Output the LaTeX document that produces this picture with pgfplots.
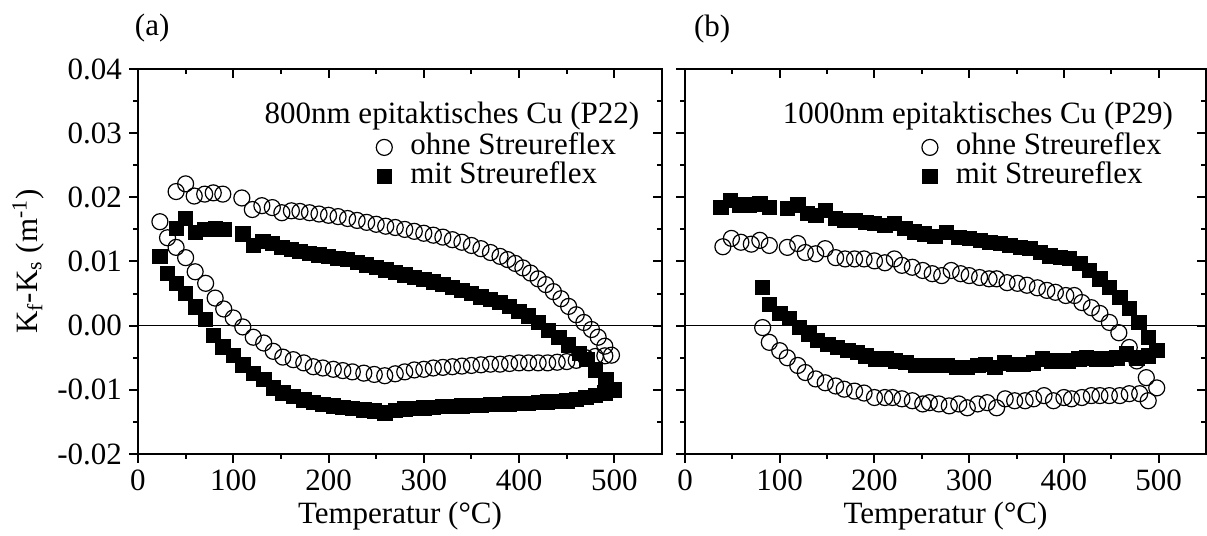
\documentclass[border=0pt]{standalone}
\usepackage{fontspec}
\setmainfont{Liberation Serif}
\usepackage{pgfplots}
\usepackage{pgfplotstable}
\pgfplotsset{compat=1.18}

\pgfplotstableread{
x y
23 0.0162
31 0.0137
40 0.0122
50 0.0106
60 0.0084
71 0.0066
81 0.0043
90 0.0026
100 0.0012
110 -0.0002
121 -0.0018
132 -0.0027
142 -0.0040
152 -0.0049
163 -0.0053
174 -0.0058
184 -0.0064
194 -0.0066
205 -0.0068
215 -0.0070
225 -0.0072
237 -0.0074
248 -0.0076
259 -0.0078
270 -0.0075
280 -0.0072
290 -0.0069
300 -0.0068
310 -0.0066
320 -0.0065
330 -0.0064
340 -0.0063
350 -0.0062
360 -0.0061
370 -0.0060
380 -0.0060
390 -0.0059
400 -0.0058
410 -0.0058
420 -0.0058
430 -0.0058
440 -0.0057
450 -0.0056
460 -0.0054
470 -0.0050
480 -0.0048
490 -0.0047
497 -0.0046
490 -0.0032
483 -0.0018
476 -0.0006
468 0.0005
460 0.0017
452 0.0030
444 0.0042
436 0.0053
428 0.0064
420 0.0073
412 0.0082
404 0.0090
396 0.0097
388 0.0103
380 0.0108
370 0.0114
360 0.0120
350 0.0125
340 0.0130
330 0.0134
320 0.0138
310 0.0141
300 0.0144
290 0.0147
280 0.0150
270 0.0153
260 0.0155
250 0.0158
240 0.0161
230 0.0164
220 0.0167
210 0.0170
200 0.0172
190 0.0174
180 0.0176
170 0.0178
161 0.0179
151 0.0176
141 0.0184
130 0.0187
120 0.0181
109 0.0199
89 0.0205
79 0.0207
70 0.0205
59 0.0202
50 0.0221
40 0.0209
}\aohne

\pgfplotstableread{
x y
23 0.0108
31 0.0081
40 0.0066
50 0.0050
60 0.0029
71 0.0010
79 -0.0015
89 -0.0033
100 -0.0046
110 -0.0061
121 -0.0074
132 -0.0084
142 -0.0097
152 -0.0105
163 -0.0110
174 -0.0116
184 -0.0120
194 -0.0123
205 -0.0125
215 -0.0127
225 -0.0129
237 -0.0131
248 -0.0133
259 -0.0136
270 -0.0132
280 -0.0130
290 -0.0129
300 -0.0128
310 -0.0127
320 -0.0126
330 -0.0126
340 -0.0125
350 -0.0124
360 -0.0124
370 -0.0123
380 -0.0123
390 -0.0122
400 -0.0121
410 -0.0121
420 -0.0120
430 -0.0119
440 -0.0118
450 -0.0117
460 -0.0115
470 -0.0112
480 -0.0109
490 -0.0105
500 -0.0100
491 -0.0084
480 -0.0069
471 -0.0053
463 -0.0043
452 -0.0030
442 -0.0018
431 -0.0007
420 0.0005
410 0.0015
400 0.0022
390 0.0030
380 0.0036
370 0.0041
360 0.0045
350 0.0050
340 0.0055
330 0.0060
320 0.0064
310 0.0068
300 0.0072
290 0.0075
280 0.0079
270 0.0083
260 0.0087
250 0.0091
240 0.0095
230 0.0099
220 0.0103
210 0.0105
200 0.0108
190 0.0110
180 0.0113
170 0.0116
161 0.0119
151 0.0122
141 0.0128
131 0.0131
121 0.0125
110 0.0143
90 0.0150
81 0.0151
70 0.0150
60 0.0145
50 0.0167
40 0.0152
}\amit

\pgfplotstableread{
x y
40 0.0123
49 0.0136
59 0.0130
70 0.0127
79 0.0133
89 0.0125
108 0.0122
119 0.0128
127 0.0114
138 0.0112
148 0.0120
159 0.0106
169 0.0104
179 0.0104
189 0.0104
200 0.0101
211 0.0098
221 0.0104
229 0.0094
240 0.0091
251 0.0086
261 0.0081
271 0.0078
281 0.0086
291 0.0081
300 0.0078
311 0.0075
321 0.0073
329 0.0073
340 0.0067
351 0.0066
361 0.0063
372 0.0059
382 0.0055
391 0.0052
402 0.0047
411 0.0047
419 0.0036
429 0.0028
438 0.0019
448 0.0005
458 -0.0011
469 -0.0034
477 -0.0055
487 -0.0081
498 -0.0097
489 -0.0117
480 -0.0106
469 -0.0106
459 -0.0109
448 -0.0109
438 -0.0109
429 -0.0109
419 -0.0112
408 -0.0114
400 -0.0112
389 -0.0117
379 -0.0109
368 -0.0114
359 -0.0117
348 -0.0117
338 -0.0114
329 -0.0128
319 -0.0120
309 -0.0122
298 -0.0128
289 -0.0122
279 -0.0125
268 -0.0122
258 -0.0120
251 -0.0122
240 -0.0117
229 -0.0114
219 -0.0112
211 -0.0112
200 -0.0112
189 -0.0105
179 -0.0102
168 -0.0099
159 -0.0094
148 -0.0089
138 -0.0083
127 -0.0073
119 -0.0062
108 -0.0050
100 -0.0039
89 -0.0026
82 -0.0003
}\bohne

\pgfplotstableread{
x y
38 0.0184
48 0.0195
58 0.0188
68 0.0188
79 0.0190
89 0.0184
108 0.0183
119 0.0188
129 0.0175
138 0.0172
148 0.0180
159 0.0167
169 0.0164
180 0.0164
191 0.0161
200 0.0159
211 0.0156
221 0.0159
232 0.0152
242 0.0146
253 0.0143
264 0.0139
276 0.0145
289 0.0138
300 0.0136
312 0.0133
322 0.0130
333 0.0128
343 0.0125
354 0.0122
364 0.0120
375 0.0114
385 0.0109
396 0.0106
406 0.0105
417 0.0097
427 0.0086
438 0.0073
448 0.0060
459 0.0044
469 0.0027
479 0.0005
489 -0.0018
498 -0.0039
489 -0.0047
477 -0.0050
466 -0.0044
456 -0.0050
445 -0.0052
435 -0.0052
424 -0.0050
416 -0.0052
405 -0.0055
396 -0.0055
387 -0.0055
377 -0.0052
368 -0.0058
357 -0.0060
347 -0.0060
337 -0.0058
327 -0.0065
317 -0.0060
309 -0.0062
298 -0.0065
287 -0.0065
277 -0.0062
266 -0.0062
254 -0.0062
243 -0.0062
233 -0.0057
222 -0.0055
212 -0.0052
201 -0.0052
191 -0.0047
182 -0.0042
172 -0.0039
161 -0.0034
151 -0.0029
140 -0.0023
131 -0.0013
121 -0.0003
110 0.0011
100 0.0019
89 0.0033
82 0.0060
}\bmit

\newcommand{\fs}{\fontsize{15.5}{18}\selectfont}

\pgfplotsset{
  base/.style={
    scale only axis, height=192.5pt,
    xmin=0, xmax=550, ymin=-0.02, ymax=0.04,
    xtick={0,100,200,300,400,500}, minor x tick num=1,
    ytick={-0.02,-0.01,0,0.01,0.02,0.03,0.04}, minor y tick num=1,
    scaled y ticks=false,
    axis line style={line width=1pt},
    every tick/.style={line width=1pt, black},
    major tick length=4.5pt, minor tick length=2.5pt,
    tick label style={font=\fs},
    /pgf/number format/assume math mode=true,
    yticklabel style={/pgf/number format/.cd, fixed, fixed zerofill, precision=2},
  },
  mainax/.style={base, clip=false, tick align=outside, xtick pos=left, ytick pos=left,
    xlabel={Temperatur (°C)},
    xlabel style={font=\fs, at={(axis description cs:0.5,-0.16)}, anchor=center},
    legend style={draw=none, fill=none, inner sep=0pt, font=\fs,
      at={(rel axis cs:0.454,0.835)}, anchor=north west,
      column sep=9pt,
      nodes={inner sep=0pt, text height=11pt, text depth=3.5pt}},
    legend cell align=left,
  },
  overax/.style={base, tick align=inside, xtick pos=right, ytick pos=right,
    xticklabels={}, yticklabels={}},
  ohne/.style={only marks, mark=o, mark size=4pt, mark options={line width=0.6pt, black}},
  mit/.style={only marks, mark=square*, mark size=3.6pt, mark options={black, fill=black}},
}

\begin{document}
\begin{tikzpicture}
\path[use as bounding box] (0,0) rectangle (603.5pt,268pt);

% panel (a)
\begin{axis}[mainax, at={(69pt,41pt)}, anchor=south west, width=262pt,
  ylabel={K\textsubscript{f}-K\textsubscript{s} (m\textsuperscript{-1})},
  ylabel style={font=\fs, at={(axis description cs:-0.21,0.5)}, anchor=center}]
\addplot[black, line width=0.75pt, forget plot] coordinates {(0,0) (550,0)};
\addplot[ohne] table {\aohne};
\addlegendentry{ohne Streureflex}
\addplot[mit] table {\amit};
\addlegendentry{mit Streureflex}
\node[font=\fs, anchor=east] at (rel axis cs:0.97,0.878) {800nm epitaktisches Cu (P22)};
\node[font=\fs] at (rel axis cs:0.027,1.106) {(a)};
\end{axis}
\begin{axis}[overax, at={(69pt,41pt)}, anchor=south west, width=262pt]
\end{axis}

% panel (b)
\begin{axis}[mainax, at={(342.5pt,41pt)}, anchor=south west, width=260.5pt,
  yticklabels={}]
\addplot[black, line width=0.75pt, forget plot] coordinates {(0,0) (550,0)};
\addplot[ohne] table {\bohne};
\addlegendentry{ohne Streureflex}
\addplot[mit] table {\bmit};
\addlegendentry{mit Streureflex}
\node[font=\fs, anchor=east] at (rel axis cs:0.95,0.878) {1000nm epitaktisches Cu (P29)};
\node[font=\fs] at (rel axis cs:0.052,1.104) {(b)};
\end{axis}
\begin{axis}[overax, at={(342.5pt,41pt)}, anchor=south west, width=260.5pt]
\end{axis}
\end{tikzpicture}
\end{document}
